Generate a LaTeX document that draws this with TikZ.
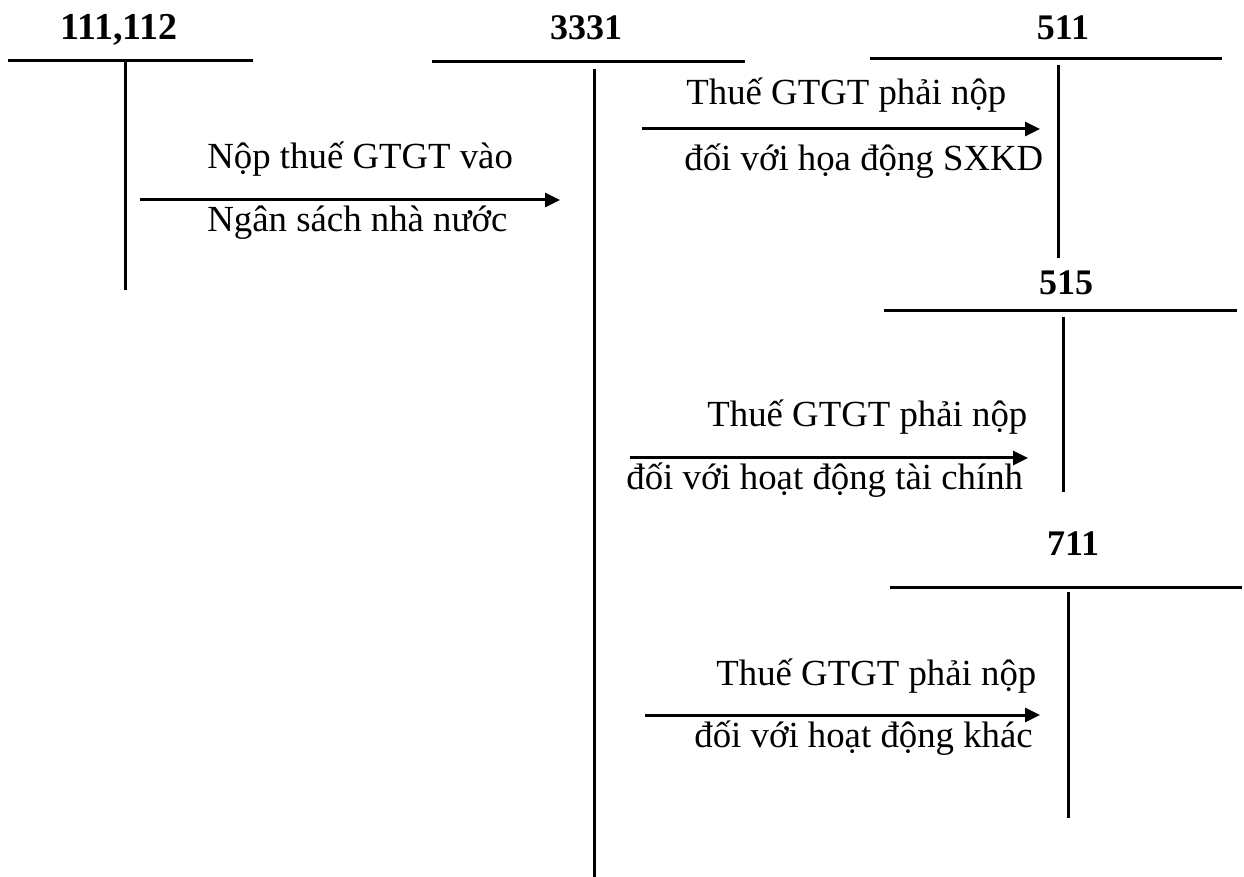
\documentclass[tikz,border=0pt]{standalone}
\usepackage{fontspec}
\setmainfont{Liberation Serif}
\usetikzlibrary{arrows.meta}
\begin{document}
\begin{tikzpicture}[x=0.5pt,y=-0.5pt,
  acct/.style={line width=1.5pt},
  flow/.style={line width=1.5pt,-{Triangle[length=7.5pt,width=7pt]}},
  title/.style={font=\fontsize{18pt}{20pt}\selectfont\bfseries,inner sep=0pt,anchor=base},
  lbl/.style={font=\fontsize{18.4pt}{20pt}\selectfont,inner sep=0pt,anchor=base west}]
\useasboundingbox (0,0) rectangle (1244,877);
% T-account 111,112
\node[title,font=\fontsize{19pt}{20pt}\selectfont\bfseries] (t111) at (119,40) {111,112};
\draw[acct] (8,61) -- (253,61);
\draw[acct] (125,61) -- (125,290);
% T-account 3331
\node[title] (t3331) at (586,40) {3331};
\draw[acct] (432,62) -- (745,62);
\draw[acct] (594,69) -- (594,877);
% T-account 511
\node[title] (t511) at (1063,40) {511};
\draw[acct] (870,59) -- (1222,59);
\draw[acct] (1058,65) -- (1058,258);
% T-account 515
\node[title] (t515) at (1066,295) {515};
\draw[acct] (884,311) -- (1237,311);
\draw[acct] (1063,317) -- (1063,492);
% T-account 711
\node[title] (t711) at (1073,555) {711};
\draw[acct] (890,588) -- (1242,588);
\draw[acct] (1068,592) -- (1068,818);
% arrows
\coordinate (a1s) at (140,200); \coordinate (a1e) at (560,200);
\coordinate (a2s) at (642,129); \coordinate (a2e) at (1040,129);
\coordinate (a3s) at (630,458); \coordinate (a3e) at (1028,458);
\coordinate (a4s) at (645,715); \coordinate (a4e) at (1040,715);
\draw[flow] (a1s) -- (a1e);
\draw[flow] (a2s) -- (a2e);
\draw[flow] (a3s) -- (a3e);
\draw[flow] (a4s) -- (a4e);
% labels
\node[lbl] (l1a) at (207,169) {Nộp thuế GTGT vào};
\node[lbl] (l1b) at (207,232) {Ngân sách nhà nước};
\node[lbl] (l2a) at (686,105) {Thuế GTGT phải nộp};
\node[lbl] (l2b) at (684,171) {đối với họa động SXKD};
\node[lbl] (l3a) at (707,427) {Thuế GTGT phải nộp};
\node[lbl] (l3b) at (626,490) {đối với hoạt động tài chính};
\node[lbl] (l4a) at (716,685) {Thuế GTGT phải nộp};
\node[lbl] (l4b) at (694,747) {đối với hoạt động khác};
\end{tikzpicture}
\end{document}
